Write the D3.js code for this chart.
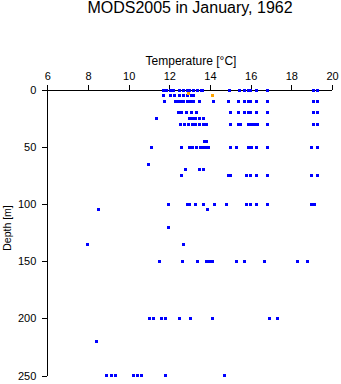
<!DOCTYPE html>
<html>
<head>
<meta charset="utf-8">
<script src="https://cdn.jsdelivr.net/npm/d3@7"></script>
<style>
  html, body { margin: 0; padding: 0; background: #fff; }
  svg { display: block; font-family: "Liberation Sans", Arial, sans-serif; }
</style>
</head>
<body>
<svg id="chart" width="341" height="384"></svg>
<script>
// Temperature profiles (°C) per standard depth level (m)
const depths = [0, 5, 10, 20, 25, 30, 45, 50, 65, 70, 75, 100, 105, 120, 135, 150, 200, 220, 250];
const temps = [
  [11.69, 11.84, 12.08, 12.23, 12.52, 12.72, 12.87, 12.97, 13.21, 13.41, 13.56, 13.65, 14.94, 15.43, 15.72, 15.87, 16.01, 16.31, 16.85, 19.11, 19.31],
  [11.71, 12.08, 12.26, 12.52, 12.72, 12.90, 13.09, 13.21],
  [11.74, 12.28, 12.43, 12.57, 12.72, 12.87, 13.02, 13.21, 13.48, 14.17, 14.91, 15.40, 15.72, 15.87, 16.01, 16.31, 16.83, 19.09, 19.31],
  [12.45, 12.62, 12.85, 13.11, 13.36, 15.01, 15.40, 15.72, 15.87, 16.01, 16.31, 16.83, 19.09, 19.31],
  [11.39, 12.97, 13.16, 13.31, 13.46, 13.68],
  [12.55, 12.75, 12.92, 13.14, 13.31, 13.48, 13.66, 13.83, 15.01, 15.40, 15.52, 15.89, 16.06, 16.21, 16.36, 16.83, 19.09, 19.31],
  [13.73, 13.85],
  [11.10, 12.60, 12.99, 13.16, 13.34, 13.51, 13.68, 13.85, 13.93, 15.01, 15.30, 15.89, 16.06, 16.29, 16.83, 18.99, 19.28],
  [10.98],
  [12.79, 13.48, 13.68],
  [12.62, 14.91, 15.03, 15.79, 15.99, 16.31, 16.83, 18.99, 19.31],
  [11.96, 12.87, 12.97, 13.29, 13.68, 14.22, 14.81, 15.79, 15.99, 16.29, 16.83, 18.99, 19.16],
  [8.52, 13.88],
  [11.96],
  [7.98, 12.70],
  [11.52, 12.65, 13.38, 13.83, 13.97, 14.12, 15.30, 15.70, 16.70, 18.30, 18.79],
  [11.02, 11.22, 11.61, 11.81, 12.50, 13.02, 14.12, 16.92, 17.32],
  [8.42],
  [8.91, 9.18, 9.33, 10.26, 10.43, 10.63, 11.81, 14.71]
];
// Flagged observations
const flaggedDepths = [3, 5];
const flaggedTemps = [12.92, 14.10];

const xTicks = [6, 8, 10, 12, 14, 16, 18, 20];
const yTicks = [0, 50, 100, 150, 200, 250];

const svg = d3.select("#chart");
const x = d3.scaleLinear().domain([6, 20]).range([47.3, 332]);
const y = d3.scaleLinear().domain([0, 250]).range([90, 375.5]);

const points = [];
depths.forEach((d, i) => temps[i].forEach(t => points.push({ t, d })));
const flagged = flaggedDepths.map((d, i) => ({ t: flaggedTemps[i], d }));

// Axes
const xAxis = svg.append("g")
  .attr("transform", `translate(0,${y(0)})`)
  .call(d3.axisTop(x).tickValues(xTicks).tickSize(5).tickSizeOuter(0).tickPadding(5));
const yAxis = svg.append("g")
  .attr("transform", `translate(${x(6)},0)`)
  .call(d3.axisLeft(y).tickValues(yTicks).tickSize(5).tickSizeOuter(0).tickPadding(6));

[xAxis, yAxis].forEach(g => {
  g.selectAll("path, line").attr("stroke", "#000").attr("stroke-width", 1).attr("shape-rendering", "crispEdges");
  g.selectAll("text").attr("fill", "#000").style("font-size", "11px").style("font-family", "'Liberation Sans', Arial, sans-serif");
});
xAxis.select(".domain").attr("d", `M${x(6)},0H${x(20)}`);
yAxis.select(".domain").attr("d", `M0,${y(0)}V${y(250)}`);

// Observations
svg.append("g").selectAll("rect")
  .data(points)
  .join("rect")
  .attr("x", p => x(p.t) - 1.5)
  .attr("y", p => y(p.d) - 1.5)
  .attr("width", 3)
  .attr("height", 3)
  .attr("fill", "#0000ff")
  .attr("shape-rendering", "crispEdges");

svg.append("g").selectAll("rect")
  .data(flagged)
  .join("rect")
  .attr("x", p => x(p.t) - 1.5)
  .attr("y", p => y(p.d) - 1.5)
  .attr("width", 3)
  .attr("height", 3)
  .attr("fill", "#ffa500")
  .attr("shape-rendering", "crispEdges");

// Titles
svg.append("text")
  .attr("x", 190).attr("y", 13)
  .attr("text-anchor", "middle")
  .style("font-size", "16px")
  .text("MODS2005 in January, 1962");

svg.append("text")
  .attr("x", 191).attr("y", 64.5)
  .attr("text-anchor", "middle")
  .style("font-size", "12px")
  .text("Temperature [°C]");

svg.append("text")
  .attr("transform", "translate(10.5,228) rotate(-90)")
  .attr("text-anchor", "middle")
  .style("font-size", "10.5px")
  .text("Depth [m]");
</script>
</body>
</html>
